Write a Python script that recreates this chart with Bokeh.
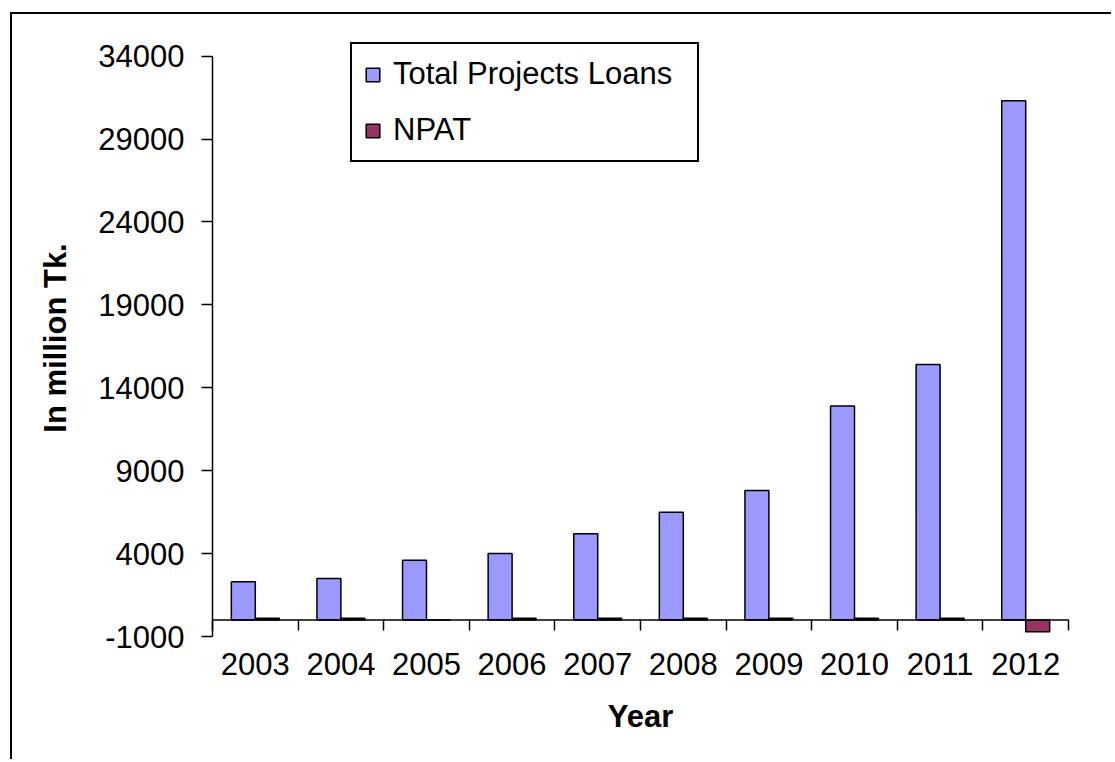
from bokeh.plotting import figure
from bokeh.models import (Range1d, LinearAxis, FixedTicker, Span, ColumnDataSource)
from bokeh.transform import dodge
from bokeh.embed import file_html
from bokeh.resources import INLINE

years = ["2003", "2004", "2005", "2006", "2007", "2008", "2009", "2010", "2011", "2012"]
total_loans = [2300, 2500, 3600, 4000, 5200, 6500, 7800, 12900, 15400, 31300]
npat = [100, 100, 0, 100, 100, 100, 100, 100, 100, -720]
y_ticks = [-1000, 4000, 9000, 14000, 19000, 24000, 29000, 34000]
y_tick_labels = ["-1000", "4000", "9000", "14000", "19000", "24000", "29000", "34000"]

FONT = "Liberation Sans"
FS = "31px"

# category slots: year i occupies [i, i+1] on the x scale
centers = [i + 0.5 for i in range(len(years))]
bounds = list(range(len(years) + 1))

src = ColumnDataSource(dict(x=centers, year=years, loans=total_loans, npat=npat))

p = figure(x_range=Range1d(0, len(years)),
           y_range=Range1d(-1000, 35000),
           width=1101, height=747,
           output_backend="svg", toolbar_location=None,
           x_axis_location=None,
           min_border_left=200, min_border_right=45,
           min_border_top=25, min_border_bottom=125)
p.styles = {"border-left": "2px solid black", "border-top": "2px solid black",
            "margin-left": "10px", "margin-top": "12px"}
p.outline_line_color = None
p.xgrid.visible = False
p.ygrid.visible = False
p.background_fill_color = "white"

p.vbar(x=dodge("x", -0.14), top="loans", bottom=0, width=0.28,
       source=src, fill_color="#9999FF", line_color="black", line_width=1.5,
       legend_label="Total Projects Loans")
p.vbar(x=dodge("x", 0.14), top="npat", bottom=0, width=0.28,
       source=src, fill_color="#993366", line_color="black", line_width=1.5,
       legend_label="NPAT")

p.add_layout(Span(location=0, dimension="width", line_color="black", line_width=1.5))

# y axis
ya = p.yaxis[0]
ya.ticker = FixedTicker(ticks=y_ticks)
ya.major_label_overrides = {t: s for t, s in zip(y_ticks, y_tick_labels)}
ya.bounds = (y_ticks[0], y_ticks[-1])
ya.major_tick_in = 0
ya.major_tick_out = 11
ya.minor_tick_line_color = None
ya.axis_line_width = 1.5
ya.major_tick_line_width = 1.5
ya.major_label_text_font = FONT
ya.major_label_text_font_size = FS
ya.major_label_text_color = "black"
ya.major_label_standoff = 17
ya.axis_label = "In million Tk."
ya.axis_label_text_font = FONT
ya.axis_label_text_font_size = FS
ya.axis_label_text_font_style = "bold"
ya.axis_label_text_color = "black"
ya.axis_label_standoff = 22

# x axis: labels at slot centres (major), tick marks at slot boundaries (minor)
x_axis = LinearAxis(ticker=FixedTicker(ticks=centers, minor_ticks=bounds),
                    major_label_overrides={c: y for c, y in zip(centers, years)},
                    axis_line_color=None, major_tick_line_color=None,
                    major_tick_in=0, major_tick_out=0,
                    minor_tick_line_color="black", minor_tick_line_width=1.5,
                    minor_tick_in=17, minor_tick_out=-6,
                    major_label_text_font=FONT, major_label_text_font_size=FS,
                    major_label_text_color="black", major_label_standoff=16,
                    axis_label="Year", axis_label_text_font=FONT,
                    axis_label_text_font_size=FS, axis_label_text_font_style="bold",
                    axis_label_text_color="black", axis_label_standoff=21)
p.add_layout(x_axis, "below")

lg = p.legend[0]
lg.location = (138, 474)
lg.border_line_color = "black"
lg.border_line_alpha = 1
lg.border_line_width = 2
lg.background_fill_alpha = 1
lg.label_text_font = FONT
lg.label_text_font_size = FS
lg.label_text_color = "black"
lg.glyph_width = 17
lg.glyph_height = 17
lg.label_standoff = 12
lg.padding = 12
lg.spacing = 20
lg.margin = 0
lg.label_width = 292

open("out.html", "w").write(file_html(p, INLINE))
